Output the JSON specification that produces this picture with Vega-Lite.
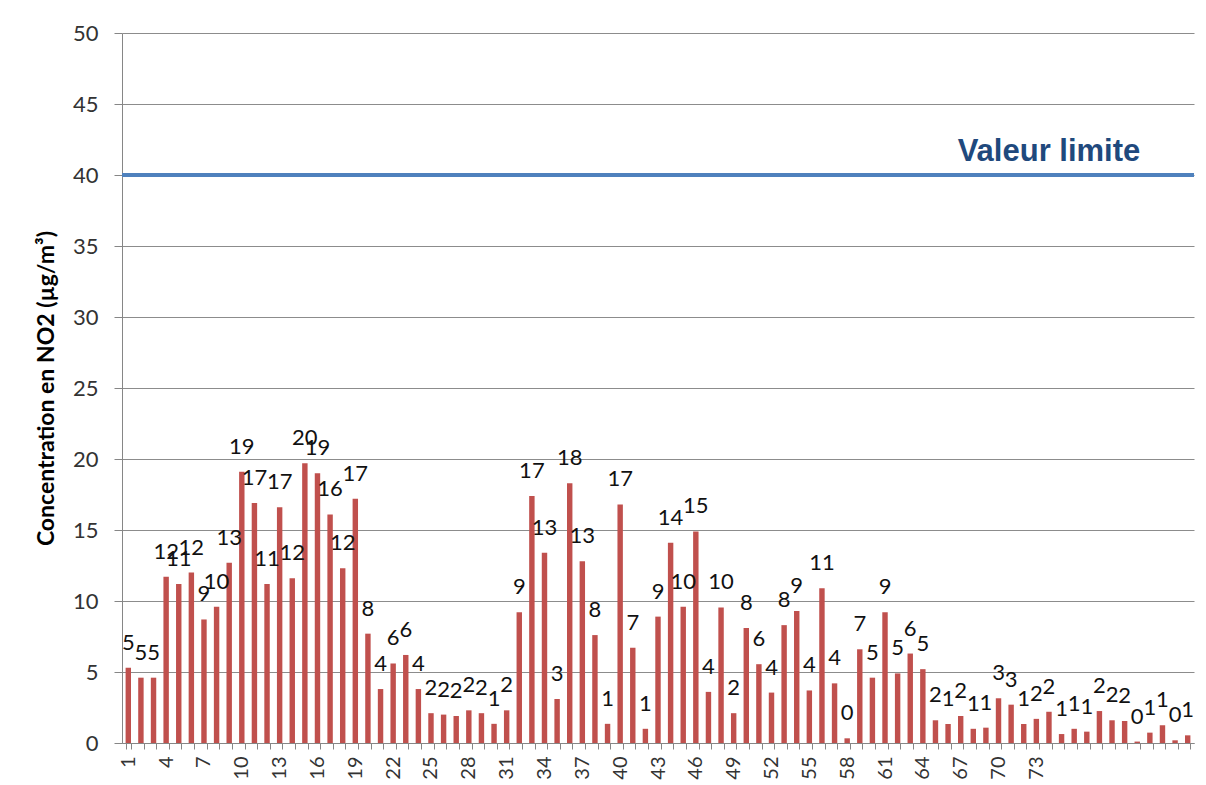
{
  "$schema": "https://vega.github.io/schema/vega-lite/v6.json",
  "width": 1072,
  "height": 710,
  "autosize": {"type": "none"},
  "padding": {"left": 122, "top": 33, "right": 12, "bottom": 42},
  "background": "white",
  "config": {"view": {"stroke": null}},
  "data": {
    "values": [
      {"station": 1, "value": 5.3}, {"station": 2, "value": 4.6}, {"station": 3, "value": 4.6},
      {"station": 4, "value": 11.7}, {"station": 5, "value": 11.2}, {"station": 6, "value": 12.0},
      {"station": 7, "value": 8.7}, {"station": 8, "value": 9.6}, {"station": 9, "value": 12.7},
      {"station": 10, "value": 19.1}, {"station": 11, "value": 16.9}, {"station": 12, "value": 11.2},
      {"station": 13, "value": 16.6}, {"station": 14, "value": 11.6}, {"station": 15, "value": 19.7},
      {"station": 16, "value": 19.0}, {"station": 17, "value": 16.1}, {"station": 18, "value": 12.3},
      {"station": 19, "value": 17.2}, {"station": 20, "value": 7.7}, {"station": 21, "value": 3.8},
      {"station": 22, "value": 5.6}, {"station": 23, "value": 6.2}, {"station": 24, "value": 3.8},
      {"station": 25, "value": 2.1}, {"station": 26, "value": 2.0}, {"station": 27, "value": 1.9},
      {"station": 28, "value": 2.3}, {"station": 29, "value": 2.1}, {"station": 30, "value": 1.35},
      {"station": 31, "value": 2.3}, {"station": 32, "value": 9.2}, {"station": 33, "value": 17.4},
      {"station": 34, "value": 13.4}, {"station": 35, "value": 3.1}, {"station": 36, "value": 18.3},
      {"station": 37, "value": 12.8}, {"station": 38, "value": 7.6}, {"station": 39, "value": 1.35},
      {"station": 40, "value": 16.8}, {"station": 41, "value": 6.7}, {"station": 42, "value": 1.0},
      {"station": 43, "value": 8.9}, {"station": 44, "value": 14.1}, {"station": 45, "value": 9.6},
      {"station": 46, "value": 14.9}, {"station": 47, "value": 3.6}, {"station": 48, "value": 9.55},
      {"station": 49, "value": 2.1}, {"station": 50, "value": 8.1}, {"station": 51, "value": 5.55},
      {"station": 52, "value": 3.55}, {"station": 53, "value": 8.3}, {"station": 54, "value": 9.3},
      {"station": 55, "value": 3.7}, {"station": 56, "value": 10.9}, {"station": 57, "value": 4.2},
      {"station": 58, "value": 0.33}, {"station": 59, "value": 6.6}, {"station": 60, "value": 4.6},
      {"station": 61, "value": 9.2}, {"station": 62, "value": 4.9}, {"station": 63, "value": 6.3},
      {"station": 64, "value": 5.2}, {"station": 65, "value": 1.6}, {"station": 66, "value": 1.34},
      {"station": 67, "value": 1.9}, {"station": 68, "value": 1.0}, {"station": 69, "value": 1.08},
      {"station": 70, "value": 3.15}, {"station": 71, "value": 2.7}, {"station": 72, "value": 1.34},
      {"station": 73, "value": 1.7}, {"station": 74, "value": 2.2}, {"station": 75, "value": 0.63},
      {"station": 76, "value": 1.0}, {"station": 77, "value": 0.8}, {"station": 78, "value": 2.25},
      {"station": 79, "value": 1.6}, {"station": 80, "value": 1.55}, {"station": 81, "value": 0.1},
      {"station": 82, "value": 0.73}, {"station": 83, "value": 1.25}, {"station": 84, "value": 0.19},
      {"station": 85, "value": 0.54}
    ]
  },
  "layer": [
    {
      "mark": {"type": "bar", "color": "#C0504D"},
      "encoding": {
        "x": {
          "field": "station",
          "type": "ordinal",
          "scale": {"paddingInner": 0.57, "paddingOuter": 0.285},
          "axis": {
            "title": null,
            "tickBand": "extent",
            "labelExpr": "(datum.value - 1) % 3 == 0 && datum.value <= 73 ? datum.label : ''",
            "labelAngle": 270,
            "labelOverlap": false,
            "labelFont": "Lato",
            "labelFontSize": 20,
            "labelColor": "#333333",
            "labelPadding": 7,
            "tickSize": 6,
            "tickColor": "#868686",
            "domainColor": "#868686",
            "grid": false
          }
        },
        "y": {
          "field": "value",
          "type": "quantitative",
          "scale": {"domain": [0, 50], "nice": false},
          "axis": {
            "title": "Concentration en NO2 (µg/m³)",
            "titleFont": "Lato",
            "titleFontWeight": "bold",
            "titleFontSize": 23,
            "titleColor": "#000000",
            "titleX": -64,
            "titleY": 355,
            "titleBaseline": "bottom",
            "values": [0, 5, 10, 15, 20, 25, 30, 35, 40, 45, 50],
            "labelFont": "Lato",
            "labelFontSize": 22,
            "labelColor": "#333333",
            "labelPadding": 16,
            "tickSize": 8,
            "tickColor": "#868686",
            "domainColor": "#868686",
            "grid": true,
            "gridColor": "#8c8c8c"
          }
        }
      }
    },
    {
      "mark": {"type": "text", "font": "Lato", "fontSize": 22, "color": "#111111", "baseline": "alphabetic", "align": "center", "dy": -18},
      "encoding": {
        "x": {"field": "station", "type": "ordinal"},
        "y": {"field": "value", "type": "quantitative"},
        "text": {"field": "value", "type": "quantitative", "format": ".0f"}
      }
    },
    {
      "data": {"values": [{"value": 40}]},
      "mark": {"type": "rule", "color": "#4F81BD", "strokeWidth": 4},
      "encoding": {
        "y": {"field": "value", "type": "quantitative"}
      }
    },
    {
      "data": {"values": [{"station": 74, "value": 40, "name": "Valeur limite"}]},
      "mark": {"type": "text", "font": "Liberation Sans", "fontWeight": "bold", "fontSize": 31, "color": "#1F497D", "baseline": "alphabetic", "align": "center", "dy": -14},
      "encoding": {
        "x": {"field": "station", "type": "ordinal"},
        "y": {"field": "value", "type": "quantitative"},
        "text": {"field": "name"}
      }
    }
  ]
}
